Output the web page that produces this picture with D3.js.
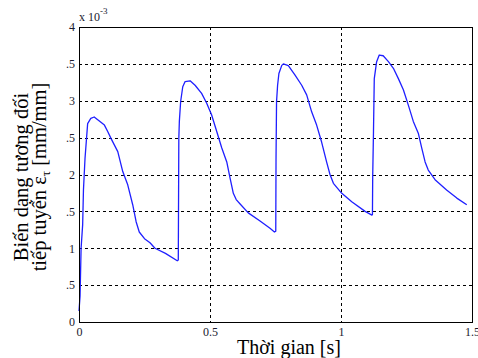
<!DOCTYPE html>
<html>
<head>
<meta charset="utf-8">
<script src="https://cdn.jsdelivr.net/npm/d3@7/dist/d3.min.js"></script>
<style>
  html, body { margin: 0; padding: 0; background: #fff; }
  svg { display: block; }
  text { font-family: "Liberation Serif", "Times New Roman", serif; }
</style>
</head>
<body>
<svg id="chart" width="478" height="358"></svg>
<script>
// Tangential strain over time (values in units of 1e-3 mm/mm)
const timeS = [
  0.000, 0.004, 0.008, 0.014, 0.017, 0.023, 0.033, 0.045, 0.058, 0.080, 0.097, 0.110,
  0.122, 0.148, 0.167, 0.186, 0.205, 0.218, 0.230, 0.250, 0.271, 0.290, 0.330, 0.375,
  0.379, 0.381, 0.383, 0.388, 0.396, 0.405, 0.424, 0.443, 0.468, 0.487, 0.506, 0.526,
  0.545, 0.564, 0.576, 0.589, 0.600, 0.615, 0.646, 0.691, 0.729, 0.746,
  0.751, 0.752, 0.754, 0.758, 0.763, 0.774, 0.780, 0.799, 0.824, 0.850, 0.869, 0.888,
  0.907, 0.926, 0.945, 0.958, 0.971, 1.003, 1.041, 1.092, 1.118,
  1.120, 1.121, 1.124, 1.127, 1.136, 1.146, 1.161, 1.181, 1.200, 1.219, 1.238, 1.257,
  1.276, 1.295, 1.308, 1.321, 1.333, 1.359, 1.403, 1.442, 1.480
];
const strain = [
  0.15, 0.35, 1.00, 1.32, 1.79, 2.22, 2.69, 2.76, 2.78, 2.72, 2.67, 2.58,
  2.49, 2.31, 2.04, 1.86, 1.59, 1.36, 1.22, 1.13, 1.075, 1.00, 0.93, 0.83,
  0.84, 2.49, 2.72, 2.99, 3.19, 3.26, 3.27, 3.21, 3.10, 2.97, 2.81, 2.58,
  2.36, 2.17, 1.96, 1.745, 1.66, 1.60, 1.48, 1.37, 1.27, 1.22,
  1.23, 2.20, 2.99, 3.21, 3.37, 3.48, 3.50, 3.475, 3.35, 3.21, 3.08, 2.85,
  2.67, 2.44, 2.17, 2.00, 1.88, 1.745, 1.63, 1.50, 1.45,
  1.46, 1.97, 2.58, 3.30, 3.53, 3.62, 3.61, 3.53, 3.44, 3.30, 3.15, 2.94,
  2.72, 2.56, 2.36, 2.17, 2.06, 1.93, 1.79, 1.68, 1.59
];

const xTicks = [0, 0.5, 1, 1.5];
const xTickLabels = ["0", "0.5", "1", "1.5"];
const yTicks = [0, 0.5, 1, 1.5, 2, 2.5, 3, 3.5, 4];
const yTickLabels = ["0", ".5", "1", ".5", "2", ".5", "3", ".5", "4"];

const xLabel = "Thời gian [s]";
const yLabelLine1 = "Biến dạng tương đối";
const yLabelLine2 = "tiếp tuyến ε";
const yLabelSub = "τ";
const yLabelTail = " [mm/mm]";

const serif = "'Liberation Serif', 'Times New Roman', serif";
const svg = d3.select("#chart");
const plotL = 79, plotR = 472, plotT = 27, plotB = 322;

const x = d3.scaleLinear().domain([0, 1.5]).range([plotL, plotR]);
const y = d3.scaleLinear().domain([0, 4]).range([plotB, plotT]);

// dashed grid
const grid = svg.append("g").attr("stroke", "#000").attr("stroke-width", 1)
  .attr("stroke-dasharray", "3,3").attr("shape-rendering", "crispEdges");
grid.selectAll("line.gx").data(xTicks.filter(d => d > 0 && d < 1.5)).join("line")
  .attr("x1", d => Math.round(x(d)) + 0.5).attr("x2", d => Math.round(x(d)) + 0.5)
  .attr("y1", plotT).attr("y2", plotB);
grid.selectAll("line.gy").data(yTicks.filter(d => d > 0 && d < 4)).join("line")
  .attr("y1", d => Math.round(y(d)) + 0.5).attr("y2", d => Math.round(y(d)) + 0.5)
  .attr("x1", plotL).attr("x2", plotR);

// axes through d3 axis generators (labels only, frame drawn separately)
const xAxis = d3.axisBottom(x).tickValues(xTicks).tickFormat((d, i) => xTickLabels[i])
  .tickSize(0).tickPadding(5);
const gx = svg.append("g").attr("transform", `translate(0,${plotB})`).call(xAxis)
  .attr("font-family", serif).attr("font-size", 12);
gx.select(".domain").remove();
gx.selectAll("text").attr("fill", "#1a1a2e");

const yAxis = d3.axisLeft(y).tickValues(yTicks).tickFormat((d, i) => yTickLabels[i])
  .tickSize(0).tickPadding(4);
const gy = svg.append("g").attr("transform", `translate(${plotL},0)`).call(yAxis)
  .attr("font-family", serif).attr("font-size", 12);
gy.select(".domain").remove();
gy.selectAll("text").attr("fill", "#1a1a2e");

// exponent marker
const expo = svg.append("text").attr("x", plotL).attr("y", 21).attr("font-size", 12).attr("fill", "#1a1a2e");
expo.append("tspan").text("x 10");
expo.append("tspan").attr("dy", -7).attr("font-size", 9).text("-3");

// data line
const line = d3.line().x((d, i) => x(timeS[i])).y(d => y(d));
svg.append("path").datum(strain)
  .attr("d", line).attr("fill", "none")
  .attr("stroke", "#1f1fff").attr("stroke-width", 1.3)
  .attr("stroke-linejoin", "round");

// frame
svg.append("rect").attr("x", plotL + 0.5).attr("y", plotT + 0.5)
  .attr("width", plotR - plotL).attr("height", plotB - plotT)
  .attr("fill", "none").attr("stroke", "#000").attr("stroke-width", 1)
  .attr("shape-rendering", "crispEdges");

// axis titles
svg.append("text").attr("x", 289).attr("y", 354).attr("text-anchor", "middle")
  .attr("font-size", 20).attr("fill", "#000").text(xLabel);

const yl = svg.append("g").attr("transform", "translate(0,177) rotate(-90)");
yl.append("text").attr("x", 0).attr("y", 28).attr("text-anchor", "middle")
  .attr("font-size", 20.5).attr("fill", "#000").text(yLabelLine1);
const l2 = yl.append("text").attr("x", 0).attr("y", 46).attr("text-anchor", "middle")
  .attr("font-size", 20.5).attr("fill", "#000");
l2.append("tspan").text(yLabelLine2);
l2.append("tspan").attr("dy", 4).attr("font-size", 13).text(yLabelSub);
l2.append("tspan").attr("dy", -4).text(yLabelTail);
</script>
</body>
</html>
